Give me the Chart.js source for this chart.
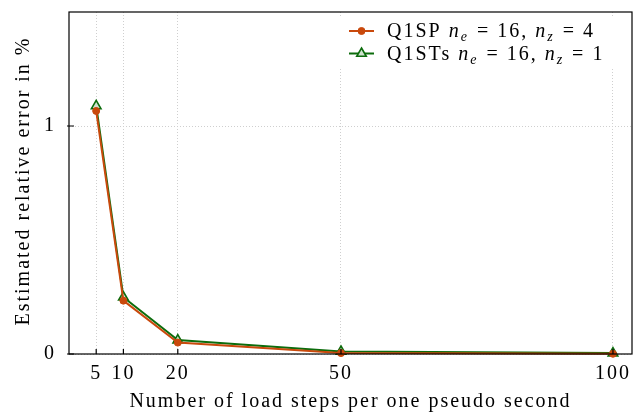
<!DOCTYPE html>
<html><head><meta charset="utf-8">
<script src="https://cdn.jsdelivr.net/npm/chart.js@4/dist/chart.umd.min.js"></script>
<style>html,body{margin:0;padding:0;background:#fff}</style>
</head><body>
<canvas id="c" width="641" height="417" style="width:641px;height:417px;display:block"></canvas>
<script>
const loadSteps = [5, 10, 20, 50, 100];
const q1spError = [1.066, 0.234, 0.050, 0.004, 0.001];
const q1stsError = [1.088, 0.249, 0.061, 0.011, 0.004];
const xTickValues = [5, 10, 20, 50, 100];
const yTickValues = [0, 1];
const seriesLabels = ['Q1SP n_e = 16, n_z = 4', 'Q1STs n_e = 16, n_z = 1'];
const xAxisTitle = 'Number of load steps per one pseudo second';
const yAxisTitle = 'Estimated relative error in %';

const FONT = "'Liberation Serif', serif";
const FS = 20;
const SPACING = '2px';
const orange = '#c9490c';
const green = '#0c6c0c';

function toPoints(xs, ys) { return xs.map((x, i) => ({ x: x, y: ys[i] })); }

const spacingPlugin = {
  id: 'spacing',
  beforeUpdate(chart) { chart.ctx.letterSpacing = SPACING; },
  beforeLayout(chart) { chart.ctx.letterSpacing = SPACING; },
  beforeDraw(chart) { chart.ctx.letterSpacing = SPACING; }
};

const frameAndLegend = {
  id: 'frameAndLegend',
  afterDatasetsDraw(chart) {
    const ctx = chart.ctx;
    const a = chart.chartArea;
    const xs = chart.scales.x, ys = chart.scales.y;
    ctx.save();
    ctx.letterSpacing = SPACING;
    ctx.fillStyle = '#fff';
    ctx.fillRect(338, a.top + 5, a.right - 338, 50);
    ctx.strokeStyle = '#000';
    ctx.lineWidth = 1.2;
    ctx.strokeRect(a.left, a.top, a.right - a.left, a.bottom - a.top);
    ctx.beginPath();
    xTickValues.forEach(v => {
      const px = xs.getPixelForValue(v);
      ctx.moveTo(px, a.bottom); ctx.lineTo(px, a.bottom - 5);
    });
    yTickValues.forEach(v => {
      const py = ys.getPixelForValue(v);
      ctx.moveTo(a.left - 2, py); ctx.lineTo(a.left + 5, py);
    });
    ctx.stroke();
    // y axis title
    ctx.save();
    ctx.font = `${FS}px ${FONT}`;
    ctx.fillStyle = '#000';
    ctx.textAlign = 'left';
    ctx.textBaseline = 'alphabetic';
    const tw = ctx.measureText(yAxisTitle).width;
    ctx.translate(29, (a.top + a.bottom) / 2 - 2 + tw / 2);
    ctx.rotate(-Math.PI / 2);
    ctx.fillText(yAxisTitle, 0, 0);
    ctx.restore();
    // legend
    chart.data.datasets.forEach((ds, i) => {
      const y = a.top + 19 + i * 22.5;
      const x0 = 349, x1 = 374;
      ctx.strokeStyle = ds.borderColor;
      ctx.lineWidth = 2;
      ctx.beginPath(); ctx.moveTo(x0, y); ctx.lineTo(x1, y); ctx.stroke();
      ctx.fillStyle = ds.pointBackgroundColor;
      ctx.strokeStyle = ds.pointBorderColor;
      ctx.lineWidth = ds.pointBorderWidth;
      Chart.helpers.drawPoint(ctx, {pointStyle: ds.pointStyle, radius: ds.pointRadius, borderWidth: ds.pointBorderWidth, rotation: 0}, (x0 + x1) / 2, y);
      let tx = 387;
      ctx.fillStyle = '#000';
      ctx.textBaseline = 'alphabetic';
      ctx.textAlign = 'left';
      const base = y + 6;
      const parts = ds.label.split(/(\w_\w)/);
      parts.forEach(p => {
        const m = p.match(/^(\w)_(\w)$/);
        if (m) {
          ctx.font = `italic ${FS}px ${FONT}`;
          ctx.fillText(m[1], tx, base);
          tx += ctx.measureText(m[1]).width;
          ctx.font = `italic ${Math.round(FS * 0.72)}px ${FONT}`;
          ctx.fillText(m[2], tx, base + 4);
          tx += ctx.measureText(m[2]).width + 1;
        } else {
          ctx.font = `${FS}px ${FONT}`;
          ctx.fillText(p, tx, base);
          tx += ctx.measureText(p).width;
        }
      });
    });
    ctx.restore();
  }
};

new Chart(document.getElementById('c'), {
  type: 'line',
  data: {
    datasets: [
      {
        label: seriesLabels[0],
        data: toPoints(loadSteps, q1spError),
        borderColor: orange, backgroundColor: orange,
        pointBackgroundColor: orange, pointBorderColor: orange,
        pointStyle: 'circle', pointRadius: 3.5, pointBorderWidth: 1,
        borderWidth: 2, tension: 0, clip: false
      },
      {
        label: seriesLabels[1],
        data: toPoints(loadSteps, q1stsError),
        borderColor: green, backgroundColor: green,
        pointBackgroundColor: '#cfe3cf', pointBorderColor: green,
        pointStyle: 'triangle', pointRadius: 5.5, pointBorderWidth: 1.6,
        borderWidth: 2, tension: 0, clip: false
      }
    ]
  },
  options: {
    responsive: false,
    animation: false,
    events: [],
    layout: { padding: { top: 12, right: 9, left: 0, bottom: 0 } },
    plugins: { legend: { display: false }, tooltip: { enabled: false } },
    scales: {
      x: {
        type: 'linear', min: 0, max: 103.5,
        afterBuildTicks: s => { s.ticks = xTickValues.map(v => ({ value: v })); },
        afterFit: s => { s.height = 63; s.paddingLeft = 0; s.paddingRight = 0; },
        ticks: { color: '#000', font: { family: FONT, size: FS }, padding: 8, maxRotation: 0, autoSkip: false },
        grid: { color: '#cfcfcf', lineWidth: 1, drawTicks: false },
        border: { display: false, dash: [1, 2] },
        title: { display: true, text: xAxisTitle, color: '#000', font: { family: FONT, size: FS }, padding: { top: 2, bottom: 3 } }
      },
      y: {
        min: 0, max: 1.5,
        afterBuildTicks: s => { s.ticks = yTickValues.map(v => ({ value: v })); },
        afterFit: s => { s.width = 69; s.paddingTop = 0; s.paddingBottom = 0; },
        ticks: { color: '#000', font: { family: FONT, size: FS }, padding: 13 },
        grid: { color: '#cfcfcf', lineWidth: 1, drawTicks: false },
        border: { display: false, dash: [1, 2] },
        title: { display: false, text: yAxisTitle }
      }
    }
  },
  plugins: [spacingPlugin, frameAndLegend]
});
</script>
</body></html>
